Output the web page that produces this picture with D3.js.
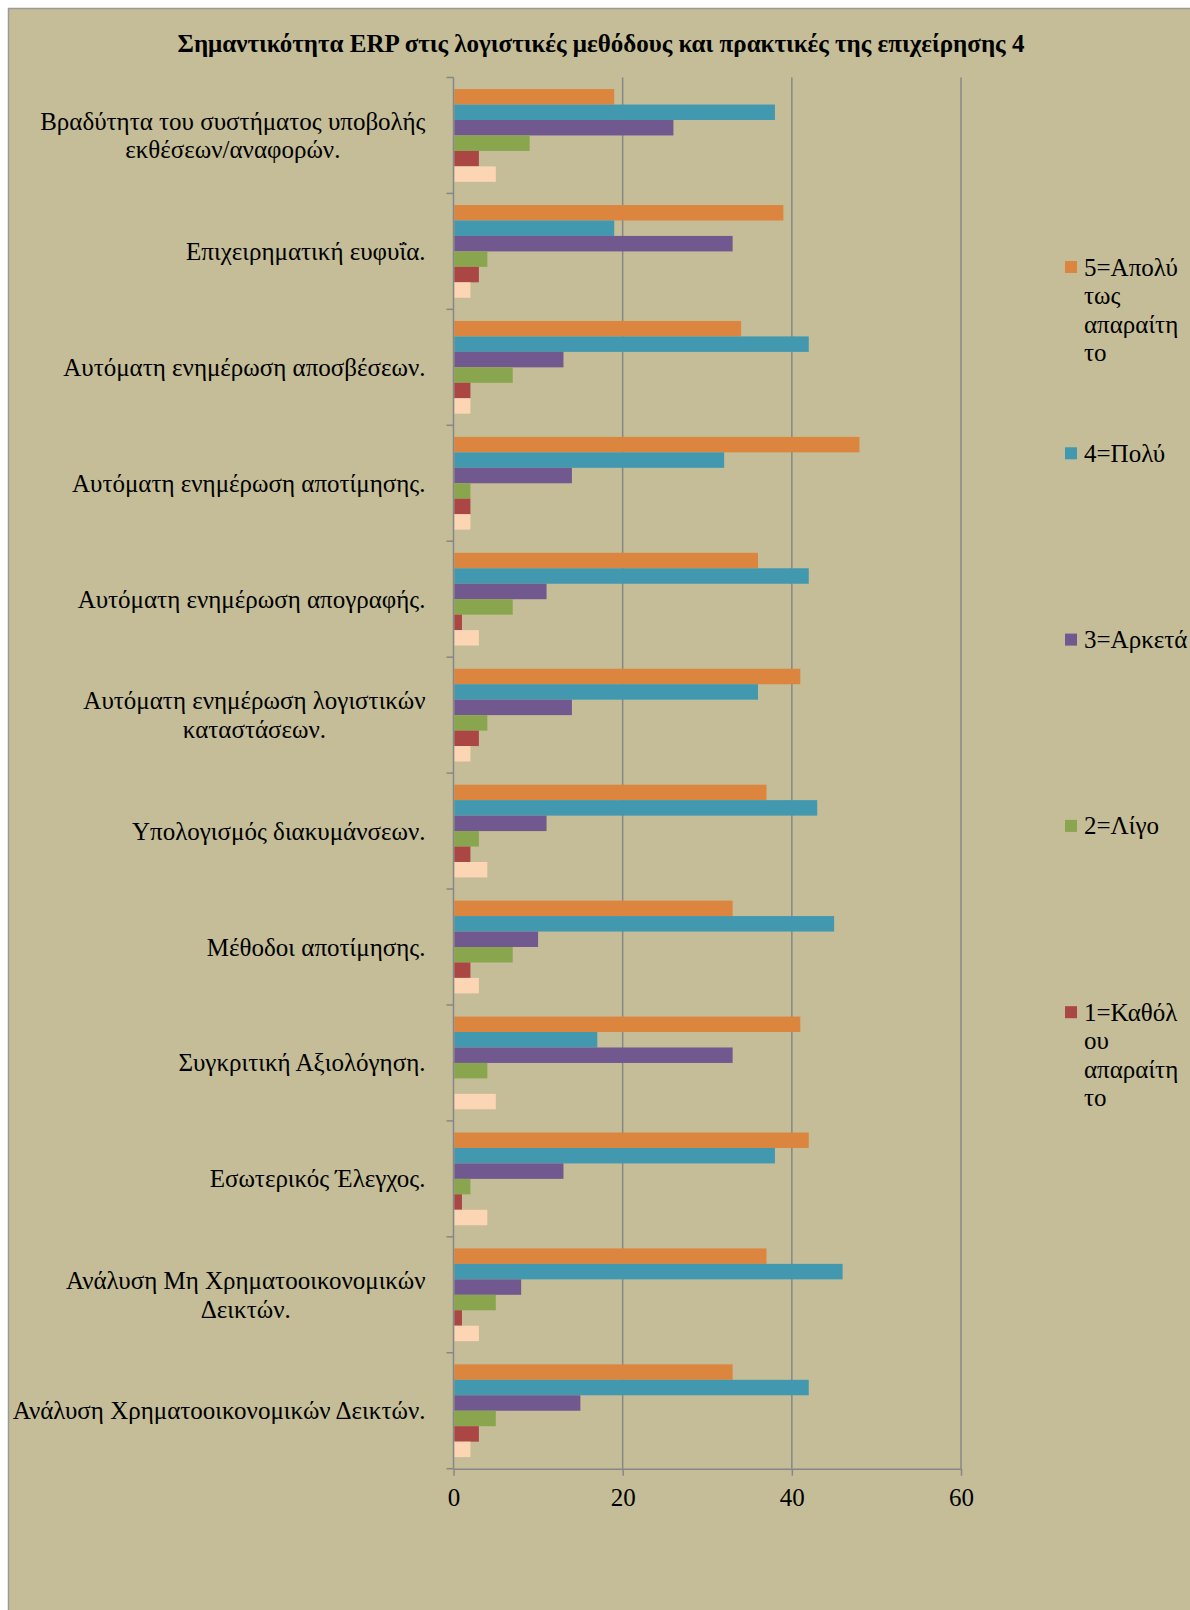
<!DOCTYPE html>
<html>
<head>
<meta charset="utf-8">
<script src="https://cdn.jsdelivr.net/npm/d3@7"></script>
<style>
  html, body { margin: 0; padding: 0; background: #ffffff; }
  svg { display: block; }
  text { font-family: "Liberation Serif", "Times New Roman", serif; fill: #000; }
</style>
</head>
<body>
<svg id="chart" width="1190" height="1610"></svg>
<script>
// Categories, top to bottom as drawn
const categories = [
  "Βραδύτητα του συστήματος υποβολής εκθέσεων/αναφορών.",
  "Επιχειρηματική ευφυΐα.",
  "Αυτόματη ενημέρωση αποσβέσεων.",
  "Αυτόματη ενημέρωση αποτίμησης.",
  "Αυτόματη ενημέρωση απογραφής.",
  "Αυτόματη ενημέρωση λογιστικών καταστάσεων.",
  "Υπολογισμός διακυμάνσεων.",
  "Μέθοδοι αποτίμησης.",
  "Συγκριτική Αξιολόγηση.",
  "Εσωτερικός Έλεγχος.",
  "Ανάλυση Μη Χρηματοοικονομικών Δεικτών.",
  "Ανάλυση Χρηματοοικονομικών Δεικτών."
];

// Responses per rating level, one value per category
const veryNecessary = [19, 39, 34, 48, 36, 41, 37, 33, 41, 42, 37, 33]; // 5
const much          = [38, 19, 42, 32, 42, 36, 43, 45, 17, 38, 46, 42]; // 4
const enough        = [26, 33, 13, 14, 11, 14, 11, 10, 33, 13,  8, 15]; // 3
const little        = [ 9,  4,  7,  2,  7,  4,  3,  7,  4,  2,  5,  5]; // 2
const notAtAll      = [ 3,  3,  2,  2,  1,  3,  2,  2,  0,  1,  1,  3]; // 1
const noAnswer      = [ 5,  2,  2,  2,  3,  2,  4,  3,  5,  4,  3,  2];

const seriesNames = ["5=Απολύτως απαραίτητο", "4=Πολύ", "3=Αρκετά", "2=Λίγο", "1=Καθόλου απαραίτητο", "Χωρίς απάντηση"];
const seriesValues = [veryNecessary, much, enough, little, notAtAll, noAnswer];
const seriesColors = ["#DC853F", "#4198AF", "#71588F", "#89A54E", "#AA4643", "#FCD5B5"];

// Legend text as it wraps inside the narrow legend column
const legendLines = [
  ["5=Απολύ", "τως", "απαραίτη", "το"],
  ["4=Πολύ"],
  ["3=Αρκετά"],
  ["2=Λίγο"],
  ["1=Καθόλ", "ου", "απαραίτη", "το"]
];

const xTicks = [0, 20, 40, 60];
const title = "Σημαντικότητα ERP στις λογιστικές μεθόδους και πρακτικές της επιχείρησης 4";

const FONT = "'Liberation Serif', 'Times New Roman', serif";
const svg = d3.select("#chart");
const W = 1190, H = 1610;

const plot = { left: 453.5, right: 961, top: 77.5, bottom: 1468.7 };
const gridColor = "#878787";

// Chart area background
svg.append("rect")
  .attr("x", 8.5).attr("y", 8.5)
  .attr("width", W + 10).attr("height", H + 10)
  .attr("fill", "#C4BD97")
  .attr("stroke", "#9a9a9a").attr("stroke-width", 1.5);

// Title
svg.append("text")
  .attr("x", 601).attr("y", 52)
  .attr("text-anchor", "middle")
  .attr("font-family", FONT)
  .style("font-size", "25px").style("font-weight", "bold")
  .text(title);

const x = d3.scaleLinear().domain([0, 60]).range([plot.left, plot.right]);
const y = d3.scaleBand().domain(categories).range([plot.top, plot.bottom])
  .paddingInner(0.2).paddingOuter(0.1);
const ySub = d3.scaleBand().domain(d3.range(seriesNames.length)).range([0, y.bandwidth()]);

// Vertical gridlines
svg.append("g").selectAll("line")
  .data(xTicks.filter(d => d > 0))
  .join("line")
  .attr("x1", d => x(d)).attr("x2", d => x(d))
  .attr("y1", plot.top).attr("y2", plot.bottom)
  .attr("stroke", gridColor).attr("stroke-width", 1.5);

// Bars
const rows = categories.map((c, i) => ({ cat: c, vals: seriesValues.map(s => s[i]) }));
const groups = svg.append("g").selectAll("g")
  .data(rows)
  .join("g")
  .attr("transform", d => `translate(0,${y(d.cat)})`);

groups.selectAll("rect")
  .data(d => d.vals.map((v, k) => ({ v, k })))
  .join("rect")
  .attr("x", x(0) + 0.75)
  .attr("y", d => ySub(d.k))
  .attr("width", d => Math.max(0, x(d.v) - x(0) - 0.75))
  .attr("height", ySub.bandwidth())
  .attr("fill", d => seriesColors[d.k])
  .attr("display", d => d.v > 0 ? null : "none");

// Value axis along the bottom
const xAxis = d3.axisBottom(x).tickValues(xTicks).tickSize(7).tickSizeOuter(0).tickPadding(13);
const gx = svg.append("g")
  .attr("transform", `translate(0,${plot.bottom})`)
  .call(xAxis)
  .attr("font-family", FONT);
gx.select(".domain").attr("stroke", gridColor).attr("stroke-width", 1.5);
gx.selectAll(".tick line").attr("stroke", gridColor).attr("stroke-width", 1.5);
gx.selectAll(".tick text")
  .style("font-size", "25px")
  .style("font-family", FONT)
  .attr("fill", "#000");

// Category axis: line plus tick marks between groups
svg.append("line")
  .attr("x1", plot.left).attr("x2", plot.left)
  .attr("y1", plot.top).attr("y2", plot.bottom)
  .attr("stroke", gridColor).attr("stroke-width", 1.5);

const step = y.step();
const boundaries = d3.range(categories.length + 1).map(i => plot.top + i * step);
svg.append("g").selectAll("line")
  .data(boundaries)
  .join("line")
  .attr("x1", plot.left - 7).attr("x2", plot.left)
  .attr("y1", d => d).attr("y2", d => d)
  .attr("stroke", gridColor).attr("stroke-width", 1.5);

// Category labels: wrapped, block right-aligned, lines centred inside block
const labelRight = 425.5;
const labelMax = 430;
const lineH = 28.5;
const labelG = svg.append("g").attr("font-family", FONT).style("font-size", "25px");

categories.forEach(cat => {
  const words = cat.split(" ");
  const t = labelG.append("text").attr("x", 0).attr("y", -1000);
  const lines = [];
  let cur = [];
  words.forEach(w => {
    const trial = cur.concat(w).join(" ");
    t.text(trial);
    if (cur.length && t.node().getComputedTextLength() > labelMax) {
      lines.push(cur.join(" "));
      cur = [w];
    } else {
      cur.push(w);
    }
  });
  lines.push(cur.join(" "));
  const widths = lines.map(l => { t.text(l); return t.node().getComputedTextLength(); });
  t.remove();
  const blockW = d3.max(widths);
  const cx = labelRight - blockW / 2;
  const cy = y(cat) + y.bandwidth() / 2;
  const first = cy - (lines.length - 1) * lineH / 2 + 8.5;
  const txt = labelG.append("text").attr("text-anchor", "middle");
  lines.forEach((l, i) => {
    txt.append("tspan").attr("x", cx).attr("y", first + i * lineH).text(l);
  });
});

// Legend
const legendTop = 267, legendStep = 186.3;
const legend = svg.append("g").attr("font-family", FONT).style("font-size", "25px");
legendLines.forEach((lines, i) => {
  const cy = legendTop + i * legendStep;
  legend.append("rect")
    .attr("x", 1065).attr("y", cy - 6)
    .attr("width", 12).attr("height", 12)
    .attr("fill", seriesColors[i]);
  const t = legend.append("text");
  lines.forEach((l, j) => {
    t.append("tspan").attr("x", 1084).attr("y", cy + 8.5 + j * 28.5).text(l);
  });
});
</script>
</body>
</html>
